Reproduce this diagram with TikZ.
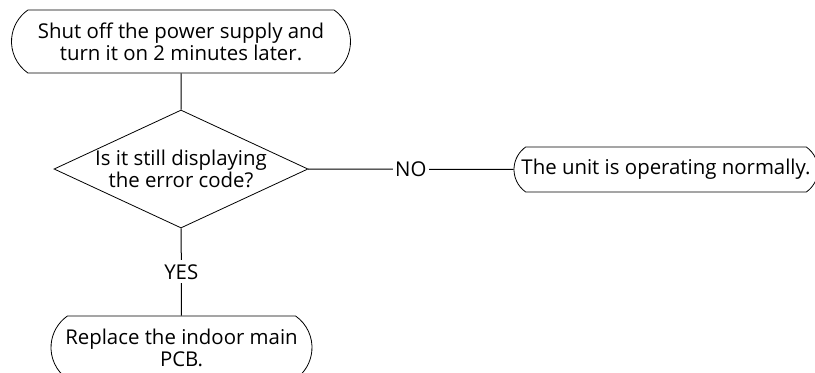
\documentclass[tikz,border=0pt]{standalone}
\usepackage{fontspec}
\setmainfont{Open Sans}
\usepackage{tikz}
\usetikzlibrary{calc, shapes, arrows}

\begin{document}
\begin{tikzpicture}[x=0.5pt,y=-0.5pt]
\tikzstyle{terminal}=[draw,rounded rectangle,rounded rectangle arc length=110,align=center,font=\fontsize{10.2}{11}\selectfont,inner sep=2pt]
\tikzstyle{decision}=[draw,diamond,aspect=2.15,align=center,font=\fontsize{10.2}{11}\selectfont,minimum width=127pt,minimum height=59pt,inner sep=0pt]
\tikzstyle{flow}=[line width=0.5pt]
\useasboundingbox (0,0) rectangle (815,372);
\node[terminal,minimum width=173.5pt,minimum height=31.5pt] (S_0) at (181,41.5) {Shut off the power supply and\\turn it on 2 minutes later.};
\node[decision] (S_1) at (181,169) {Is it still displaying\\the error code?};
\node[terminal,minimum width=156pt,minimum height=22.5pt] (S_2) at (666,169.5) {The unit is operating normally.};
\node[terminal,minimum width=134.5pt,minimum height=31.5pt] (S_3) at (181.5,347.5) {Replace the indoor main\\PCB.};
\draw[flow] (S_0) -- (S_1);
\draw[flow] (S_1) -- node[fill=white,inner sep=1pt,font=\fontsize{10.2}{11}\selectfont] {NO} (S_2);
\draw[flow] (S_1) -- node[fill=white,inner sep=2pt,font=\fontsize{10.2}{11}\selectfont] {YES} (S_3);
\end{tikzpicture}
\end{document}
